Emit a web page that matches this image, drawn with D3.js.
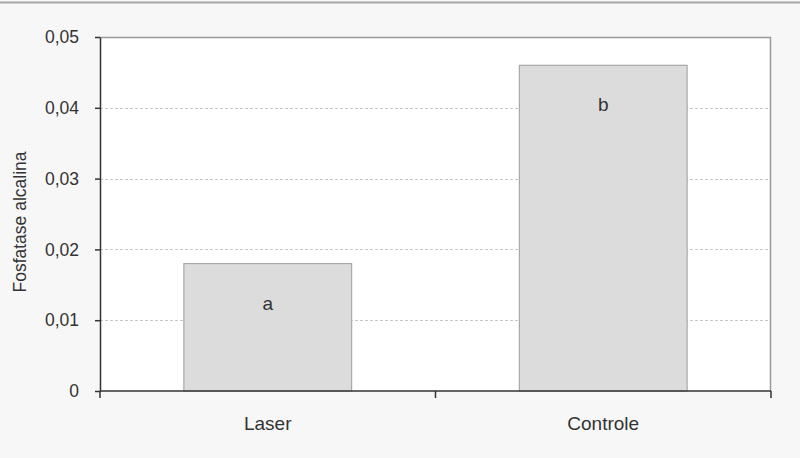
<!DOCTYPE html>
<html>
<head>
<meta charset="utf-8">
<script src="https://cdn.jsdelivr.net/npm/d3@7"></script>
<style>
  body { margin: 0; background: #f7f7f7; }
  svg { display: block; font-family: "Liberation Sans", Arial, sans-serif; }
</style>
</head>
<body>
<div id="chart"></div>
<script>
// data
var categories = ["Laser", "Controle"];
var values = [0.018, 0.046];
var letters = ["a", "b"];
var yTicks = [0, 0.01, 0.02, 0.03, 0.04, 0.05];

var totalWidth = 800;
var totalHeight = 458;
var margin = { top: 37, right: 29, bottom: 67, left: 100 };
var width = totalWidth - margin.left - margin.right;
var height = totalHeight - margin.top - margin.bottom;

var svg = d3.select('#chart').append('svg')
    .attr('width', totalWidth)
    .attr('height', totalHeight);

svg.append('rect')
    .attr('width', totalWidth).attr('height', totalHeight)
    .attr('fill', '#f7f7f7');
// outer frame line at top
svg.append('line')
    .attr('x1', 0).attr('x2', totalWidth)
    .attr('y1', 2.5).attr('y2', 2.5)
    .attr('stroke', '#a8a8a8').attr('stroke-width', 2);

var g = svg.append('g')
    .attr('transform', 'translate(' + margin.left + ',' + margin.top + ')');

var yScale = d3.scaleLinear().domain([0, 0.05]).range([height, 0]);
var xScale = d3.scaleBand()
    .domain(categories)
    .range([0, width])
    .paddingInner(0.5)
    .paddingOuter(0.25);

// plot background
g.append('rect')
    .attr('width', width).attr('height', height)
    .attr('fill', '#ffffff');

// gridlines
g.selectAll('.grid')
    .data(yTicks.filter(function(d) { return d > 0 && d < 0.05; }))
    .enter().append('line')
    .attr('class', 'grid')
    .attr('x1', 0).attr('x2', width)
    .attr('y1', function(d) { return Math.round(yScale(d)) + 0.5; })
    .attr('y2', function(d) { return Math.round(yScale(d)) + 0.5; })
    .attr('stroke', '#c8c8c8')
    .attr('stroke-dasharray', '3,2');

// top + right border
g.append('path')
    .attr('d', 'M0,0.5H' + (width - 0.5) + 'V' + height)
    .attr('fill', 'none')
    .attr('stroke', '#9a9a9a')
    .attr('stroke-width', 1.5);

// bars
g.selectAll('.bar')
    .data(values)
    .enter().append('rect')
    .attr('class', 'bar')
    .attr('x', function(d, i) { return xScale(categories[i]); })
    .attr('y', function(d) { return yScale(d); })
    .attr('width', xScale.bandwidth())
    .attr('height', function(d) { return height - yScale(d); })
    .attr('fill', '#dcdcdc')
    .attr('stroke', '#a8a8a8')
    .attr('stroke-width', 1.2);

// letters inside bars
g.selectAll('.letter')
    .data(values)
    .enter().append('text')
    .attr('class', 'letter')
    .attr('x', function(d, i) { return xScale(categories[i]) + xScale.bandwidth() / 2; })
    .attr('y', function(d) { return yScale(d) + 41; })
    .attr('text-anchor', 'middle')
    .attr('dominant-baseline', 'middle')
    .attr('font-size', 19)
    .attr('fill', '#333')
    .text(function(d, i) { return letters[i]; });

// y axis
var fmt = function(d) { return d === 0 ? '0' : d3.format('.2f')(d).replace('.', ','); };
var yAxis = d3.axisLeft(yScale).tickValues(yTicks).tickFormat(fmt)
    .tickSizeInner(5).tickSizeOuter(0).tickPadding(16);
var yAxisGroup = g.append('g').call(yAxis);
yAxisGroup.selectAll('path').attr('stroke', '#333').attr('stroke-width', 1.5);
yAxisGroup.selectAll('line').attr('stroke', '#333').attr('stroke-width', 1.5);
yAxisGroup.selectAll('text').attr('fill', '#333').attr('font-size', 17.5)
    .attr('font-family', '"Liberation Sans", Arial, sans-serif');

// x axis: ticks at band boundaries
var xAxisGroup = g.append('g').attr('transform', 'translate(0,' + height + ')');
xAxisGroup.append('line')
    .attr('x1', 0).attr('x2', width)
    .attr('stroke', '#333').attr('stroke-width', 1.5);
var boundaries = [0, width / 2, width];
xAxisGroup.selectAll('.xtick')
    .data(boundaries)
    .enter().append('line')
    .attr('x1', function(d) { return d; }).attr('x2', function(d) { return d; })
    .attr('y1', 0).attr('y2', 7)
    .attr('stroke', '#333').attr('stroke-width', 1.5);
xAxisGroup.selectAll('.xlabel')
    .data(categories)
    .enter().append('text')
    .attr('x', function(d) { return xScale(d) + xScale.bandwidth() / 2; })
    .attr('y', 34)
    .attr('text-anchor', 'middle')
    .attr('dominant-baseline', 'middle')
    .attr('font-size', 19)
    .attr('fill', '#333')
    .text(function(d) { return d; });

// y title
svg.append('text')
    .attr('transform', 'translate(26,222) rotate(-90)')
    .attr('text-anchor', 'middle')
    .attr('font-size', 17.5)
    .attr('fill', '#333')
    .text('Fosfatase alcalina');
</script>
</body>
</html>
